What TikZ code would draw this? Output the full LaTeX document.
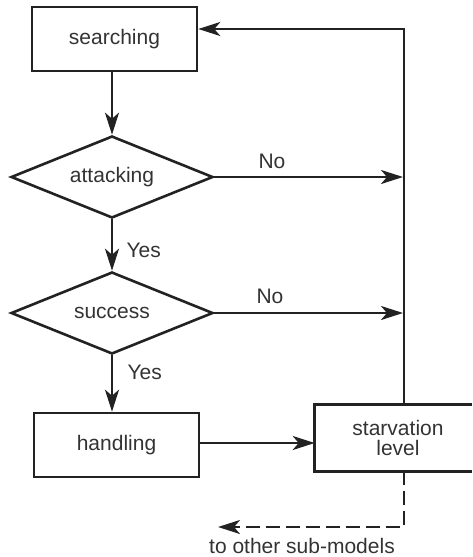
\documentclass[tikz,border=0pt]{standalone}
\usepackage{fontspec}
\setmainfont{Liberation Sans}
\usetikzlibrary{shapes.geometric,arrows.meta}
\definecolor{ink}{HTML}{222222}
\definecolor{txt}{HTML}{333333}
\begin{document}
\begin{tikzpicture}[x=1pt,y=-1pt,
  font=\fontsize{21}{24}\selectfont,
  every node/.style={text=txt},
  boxnode/.style={draw=ink,line width=2.6pt,minimum width=165pt,minimum height=64pt,inner sep=0pt,align=center},
  decision/.style={draw=ink,line width=2.6pt,diamond,aspect=2.5,minimum width=202pt,minimum height=82pt,inner sep=0pt},
  edge line/.style={draw=ink,line width=2.6pt},
  flow/.style={draw=ink,line width=2.6pt,-{Stealth[length=22pt,width=14pt,inset=6pt]}}]
\useasboundingbox (0,0) rectangle (472,557);

\node[boxnode] (search) at (114.5,39) {searching};
\node[decision] (attack) at (112,177) {attacking};
\node[decision] (succ) at (112,313) {success};
\node[boxnode] (handle) at (116.5,445) {handling};
% the starvation box is open on its right-hand side
\node[boxnode,draw=none,minimum width=164pt] (starv) at (398,438) {starvation\\[-4pt]level};
\coordinate (edgeR) at (472,0);
\draw[edge line] (starv.north -| edgeR) -- (starv.north west)
  -- (starv.south west) -- (starv.south -| edgeR);

% feedback line on the right
\coordinate (ret) at (404,29);
\coordinate (noA) at (403,177);
\coordinate (noS) at (403,313);
\coordinate (dn) at (404,527);
\coordinate (out) at (218,527);

\draw[flow] (search.south -| attack.north) -- (attack.north);
\draw[flow] (attack.south) -- (succ.north);
\draw[flow] (succ.south) -- (succ.south |- handle.north);
\draw[flow] (handle.east |- 0,443) -- (starv.west |- 0,443);
\draw[flow] (attack.east) -- (noA);
\draw[flow] (succ.east) -- (noS);
\draw[flow] (starv.north -| ret) -- (ret) -- (ret -| search.east);
\draw[flow,dash pattern=on 14pt off 6pt] (starv.south -| dn) -- (dn) -- (out);

\node at (272,161) {No};
\node at (270,296) {No};
\node[anchor=west] at (123,250) {Yes};
\node[anchor=west] at (124,372) {Yes};
\node at (302,546) {to other sub-models};
\end{tikzpicture}
\end{document}
